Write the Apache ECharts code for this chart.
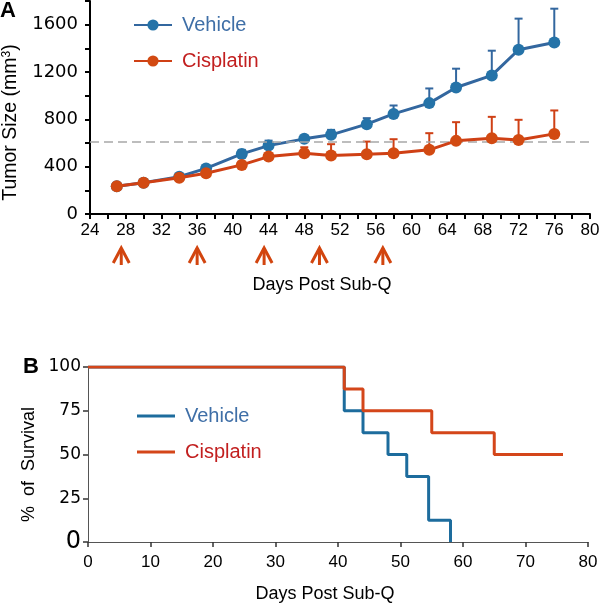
<!DOCTYPE html>
<html>
<head>
<meta charset="utf-8">
<script src="https://cdn.jsdelivr.net/npm/echarts@6/dist/echarts.min.js"></script>
<style>
html,body{margin:0;padding:0;background:#fff;}
#chart{width:601px;height:606px;}
</style>
</head>
<body>
<div id="chart"></div>
<script>
// ---- Panel A: tumor size ----
const days = [27, 30, 34, 37, 41, 44, 48, 51, 55, 58, 62, 65, 69, 72, 76];
const vehicleMean = [235, 265, 315, 385, 508, 578, 635, 669, 759, 846, 937, 1069, 1171, 1388, 1450];
const vehicleSem  = [8, 8, 10, 15, 34, 42, 25, 42, 51, 71, 124, 159, 209, 263, 285];
const cisplatinMean = [235, 265, 307, 344, 415, 485, 514, 494, 505, 514, 542, 618, 641, 626, 677];
const cisplatinSem  = [8, 8, 10, 12, 15, 20, 50, 96, 107, 118, 141, 158, 180, 170, 198];
const dosingDays = [27.5, 36, 43.5, 49.7, 56.8];
const thresholdSize = 610;

// ---- Panel B: survival ----
const vehicleSurvDays = [0, 41, 44, 48, 51, 54.5, 58];
const vehicleSurv     = [100, 75, 62.5, 50, 37.5, 12.5, 0];
const cisplatinSurvDays = [0, 41, 44, 55, 65, 76];
const cisplatinSurv     = [100, 87.5, 75, 62.5, 50, 50];

const FONT = 'Liberation Sans, Arial, sans-serif';
const NUMFONT = 'DejaVu Sans, sans-serif';
const blueLine = '#33679f', blueDot = '#2573a8';
const redLine = '#cf4015', redDot = '#d24a12';
const blueSurv = '#1d6c9d', redSurv = '#d4461a';
const blueText = '#3f6fa7', redText = '#c21f1f';
const arrowColor = '#d2450f';

function zip(xs, ys) { return xs.map((x, i) => [x, ys[i]]); }

function errRender(color) {
  return function (params, api) {
    const base = api.coord([api.value(0), api.value(1)]);
    const top = api.coord([api.value(0), api.value(2)]);
    return {
      type: 'group',
      children: [
        { type: 'line', shape: { x1: base[0], y1: base[1], x2: top[0], y2: top[1] }, style: { stroke: color, lineWidth: 2 } },
        { type: 'line', shape: { x1: top[0] - 4, y1: top[1], x2: top[0] + 4, y2: top[1] }, style: { stroke: color, lineWidth: 2 } }
      ]
    };
  };
}

const chart = echarts.init(document.getElementById('chart'), null, { renderer: 'canvas' });

const option = {
  animation: false,
  backgroundColor: '#fff',
  textStyle: { fontFamily: FONT },
  grid: [
    { left: 90, right: 11, top: 1, bottom: 392, containLabel: false, outerBoundsMode: 'none' },
    { left: 88, right: 13, top: 367, bottom: 64, containLabel: false, outerBoundsMode: 'none' }
  ],
  xAxis: [
    {
      gridIndex: 0, type: 'value', min: 24, max: 80, interval: 4,
      axisLine: { lineStyle: { color: '#000', width: 2 } },
      axisTick: { length: 5, lineStyle: { color: '#000', width: 2 } },
      minorTick: { show: true, splitNumber: 2, length: 5, lineStyle: { color: '#000', width: 2 } },
      splitLine: { show: false },
      axisLabel: { fontFamily: FONT, fontSize: 17, color: '#000', margin: 8 },
      name: 'Days Post Sub-Q', nameLocation: 'middle', nameGap: 62,
      nameTextStyle: { fontFamily: FONT, fontSize: 18, color: '#000', padding: [0, 36, 0, 0] }
    },
    {
      gridIndex: 1, type: 'value', min: 0, max: 80, interval: 10,
      axisLine: { lineStyle: { color: '#555', width: 1 } },
      axisTick: { length: 5, lineStyle: { color: '#333', width: 1.5 } },
      splitLine: { show: false },
      axisLabel: { fontFamily: FONT, fontSize: 17, color: '#000', margin: 12 },
      name: 'Days Post Sub-Q', nameLocation: 'middle', nameGap: 43,
      nameTextStyle: { fontFamily: FONT, fontSize: 18, color: '#000', padding: [0, 26, 0, 0] }
    }
  ],
  yAxis: [
    {
      gridIndex: 0, type: 'value', min: 0, max: 1800, interval: 200,
      axisLine: { show: true, lineStyle: { color: '#000', width: 2 } },
      axisTick: { show: true, length: 5, lineStyle: { color: '#000', width: 2 } },
      splitLine: { show: false },
      axisLabel: {
        fontFamily: NUMFONT, fontSize: 18, color: '#000', margin: 12,
        formatter: v => (v % 400 === 0 && v <= 1600 ? String(v) : '')
      },
      name: 'Tumor Size (mm{sup|3})', nameLocation: 'middle', nameGap: 69,
      nameTextStyle: {
        fontFamily: FONT, fontSize: 19.5, color: '#000', padding: [0, 30, 0, 0],
        rich: { sup: { fontFamily: FONT, fontSize: 12, verticalAlign: 'top', padding: [0, 0, 8, 0], color: '#000' } }
      }
    },
    {
      gridIndex: 1, type: 'value', min: 0, max: 100, interval: 25,
      axisLine: { show: true, lineStyle: { color: '#555', width: 1 } },
      axisTick: { show: true, length: 5, lineStyle: { color: '#333', width: 1.5 } },
      splitLine: { show: false },
      axisLabel: {
        fontFamily: NUMFONT, fontSize: 17, color: '#000', margin: 7,
        formatter: v => (v === 0 ? '{big|0}' : String(v)),
        rich: { big: { fontFamily: NUMFONT, fontSize: 24, color: '#000' } }
      },
      name: '%  of  Survival', nameLocation: 'middle', nameGap: 37,
      nameTextStyle: { fontFamily: FONT, fontSize: 18, color: '#000', padding: [0, 20, 0, 0] }
    }
  ],
  legend: [
    {
      left: 133, top: 14, orient: 'vertical', padding: 0, itemGap: 14,
      itemWidth: 38, itemHeight: 14,
      textStyle: { fontFamily: FONT, fontSize: 20, lineHeight: 22, padding: [0, 0, 0, 5] },
      data: [
        { name: 'Vehicle', textStyle: { color: blueText } },
        { name: 'Cisplatin', textStyle: { color: redText } }
      ]
    },
    {
      left: 137, top: 405, orient: 'vertical', padding: 0, itemGap: 14,
      itemWidth: 38, itemHeight: 3, icon: 'rect',
      formatter: n => n.replace(' survival', ''),
      textStyle: { fontFamily: FONT, fontSize: 20, lineHeight: 22, padding: [0, 0, 0, 5] },
      data: [
        { name: 'Vehicle survival', textStyle: { color: blueText } },
        { name: 'Cisplatin survival', textStyle: { color: redText } }
      ]
    }
  ],
  graphic: [
    { type: 'text', left: 0, top: 0, style: { text: 'A', fontFamily: FONT, fontWeight: 'bold', fontSize: 22, fill: '#000' } },
    { type: 'text', left: 23, top: 356, style: { text: 'B', fontFamily: FONT, fontWeight: 'bold', fontSize: 22, fill: '#000' } }
  ],
  series: [
    {
      name: 'Vehicle err', type: 'custom', xAxisIndex: 0, yAxisIndex: 0, z: 2,
      renderItem: errRender(blueLine),
      data: days.map((d, i) => [d, vehicleMean[i], vehicleMean[i] + vehicleSem[i]])
    },
    {
      name: 'Vehicle', type: 'line', xAxisIndex: 0, yAxisIndex: 0, z: 3,
      data: zip(days, vehicleMean),
      symbol: 'circle', symbolSize: 12,
      lineStyle: { color: blueLine, width: 3 },
      itemStyle: { color: blueDot, borderWidth: 0 },
      markLine: {
        silent: true, symbol: 'none', label: { show: false },
        lineStyle: { color: '#a8a8a8', type: [9, 5], width: 1.5 },
        data: [{ yAxis: thresholdSize }]
      }
    },
    {
      name: 'Cisplatin err', type: 'custom', xAxisIndex: 0, yAxisIndex: 0, z: 4,
      renderItem: errRender(redLine),
      data: days.map((d, i) => [d, cisplatinMean[i], cisplatinMean[i] + cisplatinSem[i]])
    },
    {
      name: 'Cisplatin', type: 'line', xAxisIndex: 0, yAxisIndex: 0, z: 5,
      data: zip(days, cisplatinMean),
      symbol: 'circle', symbolSize: 12,
      lineStyle: { color: redLine, width: 3 },
      itemStyle: { color: redDot, borderWidth: 0 }
    },
    {
      name: 'Dosing', type: 'custom', xAxisIndex: 0, yAxisIndex: 0, clip: false, z: 6,
      renderItem: function (params, api) {
        const p = api.coord([api.value(0), 0]);
        const x = p[0], y = p[1];
        return {
          type: 'group',
          children: [
            { type: 'line', shape: { x1: x, y1: y + 34, x2: x, y2: y + 51 }, style: { stroke: arrowColor, lineWidth: 3 } },
            { type: 'polyline', shape: { points: [[x - 8, y + 49], [x, y + 34], [x + 8, y + 49]] }, style: { stroke: arrowColor, lineWidth: 3, fill: null } }
          ]
        };
      },
      data: dosingDays.map(d => [d, 0])
    },
    {
      name: 'Vehicle survival', type: 'line', xAxisIndex: 1, yAxisIndex: 1, z: 3,
      step: 'end', symbol: 'none',
      data: zip(vehicleSurvDays, vehicleSurv),
      lineStyle: { color: blueSurv, width: 3 },
      itemStyle: { color: blueSurv }
    },
    {
      name: 'Cisplatin survival', type: 'line', xAxisIndex: 1, yAxisIndex: 1, z: 4,
      step: 'end', symbol: 'none',
      data: zip(cisplatinSurvDays, cisplatinSurv),
      lineStyle: { color: redSurv, width: 3 },
      itemStyle: { color: redSurv }
    }
  ]
};
chart.setOption(option);
</script>
</body>
</html>
